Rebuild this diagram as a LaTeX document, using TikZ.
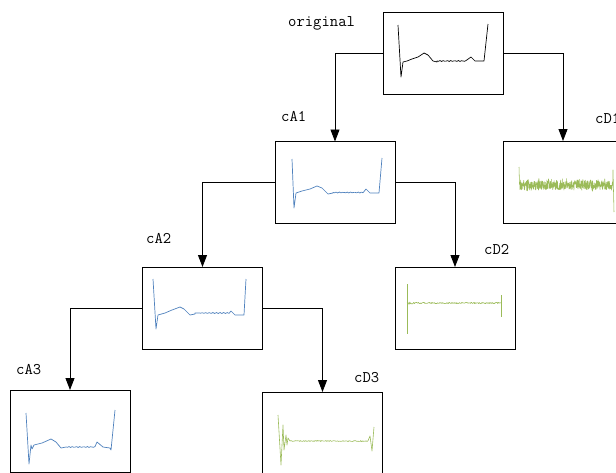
\documentclass[tikz,border=0pt]{standalone}
\usetikzlibrary{arrows.meta}
\definecolor{sigblue}{HTML}{4F81BD}
\definecolor{siggreen}{HTML}{9BBB59}
\begin{document}
\begin{tikzpicture}[x=1pt,y=-1pt,
  box/.style={draw=black,line width=1pt,minimum width=120pt,minimum height=82pt,inner sep=0pt,outer sep=0pt},
  conn/.style={draw=black,line width=0.9pt,-{Triangle[length=12pt,width=9pt]}},
  lab/.style={font=\fontsize{16.2}{16.2}\selectfont\ttfamily,inner sep=0pt,anchor=west},
  ksig/.style={draw=black,line width=0.7pt,line join=round},
  bsig/.style={draw=sigblue,line width=0.7pt,line join=round},
  gsig/.style={draw=siggreen,line width=0.6pt,line join=round}]
\useasboundingbox (0,0) rectangle (616,472);
\clip (0,0) rectangle (616,472);
\pgfmathsetseed{12345}
% boxes
\node[box] (orig) at (443,53) {};
\node[box] (cAa) at (335,182.5) {};
\node[box] (cDa) at (563,182) {};
\node[box] (cAb) at (202.5,308) {};
\node[box] (cDb) at (455,308) {};
\node[box] (cAc) at (70,431) {};
\node[box] (cDc) at (322.5,433) {};
% labels
\node[lab] (tOrig) at (288,23) {original};
\node[lab] (tAa) at (281,116) {cA1};
\node[lab] (tDa) at (595,118) {cD1};
\node[lab] (tAb) at (146,238) {cA2};
\node[lab] (tDb) at (484,249) {cD2};
\node[lab] (tAc) at (16,370) {cA3};
\node[lab] (tDc) at (354,378) {cD3};
% connectors
\draw[conn] (orig.west) -| (cAa.north);
\draw[conn] (orig.east) -| (cDa.north);
\draw[conn] (cAa.west) -| (cAb.north);
\draw[conn] (cAa.east) -| (cDb.north);
\draw[conn] (cAb.west) -| (cAc.north);
\draw[conn] (cAb.east) -| (cDc.north);
% signals
\draw[ksig] (398,25) -- (401,77) -- (403,62) -- (407,61) -- (412,59) -- (418,57) -- (424,53) -- (428,55) -- (433,61) -- (437,62)
  -- plot[domain=437:466,samples=20] (\x,{61+0.5*sin((\x-437)*97)}) -- (471,57) -- (475,61) -- (484,61) -- (488,24);
\draw[bsig] (292,159) -- (294,208) -- (296,193) -- (302,191) -- (310,189) -- (317,186) -- (322,188) -- (328,194) -- (333,193)
  -- plot[domain=333:363,samples=20] (\x,{192.5+0.5*sin((\x-333)*97)}) -- (366,189) -- (370,193) -- (379,193) -- (382,158);
\draw[bsig] (153,279) -- (156,329) -- (158,315) -- (165,313) -- (172,310) -- (180,307) -- (184,309) -- (190,315) -- (195,314)
  -- plot[domain=195:229,samples=20] (\x,{313+0.5*sin((\x-195)*97)}) -- (231,311) -- (235,315) -- (244,315) -- (246,279);
\draw[bsig] (26,413) -- (29,464) -- (31,445) -- (32,449) -- (34,445) -- (42,443) -- (51,439) -- (56,442) -- (61,448) -- (66,447)
  -- plot[domain=66:95,samples=20] (\x,{447+0.5*sin((\x-66)*97)}) -- (97,442) -- (103,447) -- (110,448) -- (111,450) -- (115,410);
\draw[gsig,line width=0.55pt] (519,167) -- plot[domain=519.5:613,samples=420] (\x,{185+5*rand+4*rand*rand*rand}) -- (613,170) -- (614,212);
\draw[gsig] (407,284) -- (407,334);
\draw[gsig] (407,303) -- plot[domain=408:500,samples=160] (\x,{303+(0.7+3*exp(-(\x-407)/2))*rand}) -- (501,303);
\draw[gsig] (501,295) -- (501,317);
\draw[gsig] (278,415) -- (281,465) -- (283,425) -- (284,450) -- (286,435) -- (287,445) -- (288,438) -- (290,441)
  -- plot[domain=290:368,samples=120] (\x,{441+0.5*rand}) -- (370,436) -- (372,451) -- (374,427);
\end{tikzpicture}
\end{document}
